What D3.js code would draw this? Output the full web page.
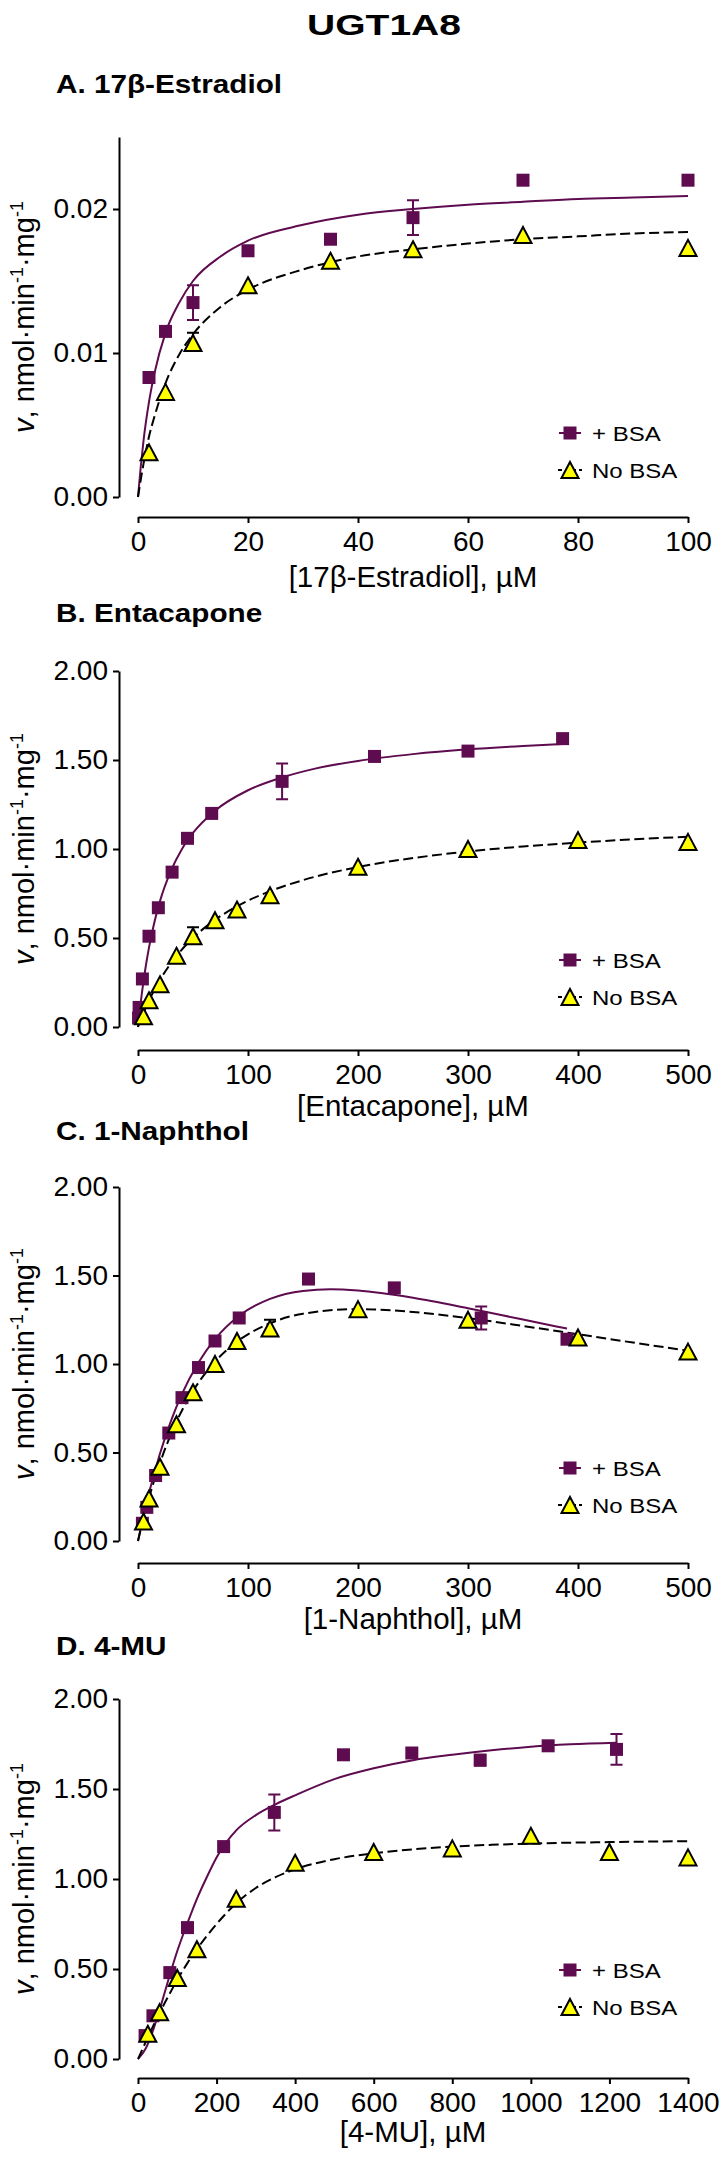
<!DOCTYPE html>
<html>
<head>
<meta charset="utf-8">
<script src="https://cdn.jsdelivr.net/npm/d3@7"></script>
<style>
  body { margin: 0; background: #fff; }
  text { font-family: "Liberation Sans", Arial, Helvetica, sans-serif; fill: #000; }
</style>
</head>
<body>
<svg id="chart" width="726" height="2157"></svg>
<script>
// points are [concentration, rate, sem]; fits are [concentration, rate]
var estradiolBsa = [[2,0.0083,0],[5,0.0115,0],[10,0.0135,0.0012],[20,0.0171,0],[35,0.0179,0],[50,0.0194,0.0012],[70,0.0220,0],[100,0.0220,0.0003]];
var estradiolNoBsa = [[2,0.0031,0],[5,0.0073,0],[10,0.0107,0.0007],[20,0.0147,0],[35,0.0164,0],[50,0.0172,0],[70,0.0182,0],[100,0.0173,0]];
var estradiolBsaFit = [[0,0],[0.5,0.0021],[1,0.0039],[2,0.0066],[3,0.0086],[5,0.0114],[7.5,0.0135],[10,0.0150],[15,0.0167],[20,0.0178],[30,0.0189],[40,0.0196],[50,0.0200],[60,0.0203],[70,0.0205],[80,0.0207],[90,0.0208],[100,0.0209]];
var estradiolNoBsaFit = [[0,0],[0.5,0.0012],[1,0.0023],[2,0.0042],[3,0.0056],[5,0.0079],[7.5,0.0099],[10,0.0113],[15,0.0132],[20,0.0144],[30,0.0158],[40,0.0167],[50,0.0172],[60,0.0176],[70,0.0179],[80,0.0181],[90,0.0183],[100,0.0184]];

var entacaponeBsa = [[0.5,0.05,0],[1,0.11,0],[4,0.27,0],[10,0.51,0],[18.5,0.67,0],[31,0.87,0],[45,1.06,0],[67,1.20,0],[131,1.38,0.10],[215,1.52,0],[300,1.55,0],[386,1.62,0]];
var entacaponeNoBsa = [[5,0.06,0],[10,0.15,0],[20,0.24,0],[35,0.40,0],[50,0.51,0.05],[70,0.60,0],[90,0.66,0],[120,0.74,0],[200,0.90,0],[300,1.00,0],[400,1.05,0],[500,1.04,0]];
var entacaponeBsaFit = [[0,0],[1,0.058],[2.5,0.139],[5,0.256],[7.5,0.358],[10,0.446],[15,0.591],[20,0.707],[30,0.878],[40,1.0],[50,1.09],[70,1.215],[100,1.33],[130,1.40],[160,1.45],[200,1.495],[250,1.533],[300,1.56],[350,1.579],[386,1.59]];
var entacaponeNoBsaFit = [[0,0],[2.5,0.041],[5,0.079],[10,0.149],[20,0.265],[35,0.399],[50,0.50],[70,0.602],[90,0.678],[120,0.763],[150,0.825],[200,0.899],[250,0.949],[300,0.986],[350,1.014],[400,1.036],[450,1.054],[500,1.069]];

var naphtholBsa = [[4,0.10,0],[8,0.19,0],[16,0.37,0],[28,0.61,0],[40,0.81,0],[55,0.98,0],[70,1.13,0],[92,1.26,0],[155,1.48,0],[233,1.43,0],[312,1.26,0.065],[390,1.14,0]];
var naphtholNoBsa = [[5,0.11,0],[10,0.24,0],[20,0.42,0],[35,0.66,0],[50,0.84,0],[70,1.00,0],[90,1.13,0],[120,1.20,0.05],[200,1.31,0],[300,1.25,0],[400,1.15,0],[500,1.07,0]];
var naphtholBsaFit = [[0,0],[5,0.142],[10,0.271],[20,0.494],[30,0.679],[40,0.831],[55,1.009],[70,1.141],[92,1.273],[120,1.368],[150,1.413],[175,1.422],[200,1.415],[250,1.374],[300,1.315],[350,1.251],[390,1.20]];
var naphtholNoBsaFit = [[0,0],[5,0.128],[10,0.243],[20,0.441],[35,0.674],[50,0.847],[70,1.013],[90,1.126],[120,1.230],[150,1.284],[200,1.31],[250,1.294],[300,1.259],[350,1.215],[400,1.168],[450,1.121],[500,1.075]];

var muBsa = [[18,0.13,0],[38,0.24,0],[81,0.48,0],[126,0.73,0],[218,1.18,0],[347,1.37,0.10],[523,1.69,0],[697,1.70,0],[871,1.66,0.03],[1044,1.74,0.02],[1218,1.72,0.085]];
var muNoBsa = [[25,0.14,0],[55,0.26,0],[100,0.45,0],[150,0.61,0],[250,0.89,0],[400,1.09,0],[600,1.15,0],[800,1.17,0],[1000,1.24,0],[1200,1.15,0],[1400,1.12,0]];
var muBsaFit = [[0,0],[20,0.06],[40,0.17],[60,0.31],[80,0.46],[100,0.60],[125,0.75],[150,0.89],[175,1.01],[200,1.12],[250,1.27],[300,1.355],[350,1.415],[400,1.465],[500,1.555],[600,1.615],[700,1.66],[800,1.69],[900,1.715],[1000,1.735],[1100,1.748],[1218,1.757]];
var muNoBsaFit = [[0,0],[25,0.12],[50,0.235],[75,0.34],[100,0.44],[125,0.53],[150,0.61],[200,0.75],[250,0.865],[300,0.95],[350,1.01],[400,1.054],[500,1.11],[600,1.143],[700,1.165],[800,1.18],[900,1.19],[1000,1.197],[1200,1.205],[1400,1.21]];

var estradiolXTicks = [0, 20, 40, 60, 80, 100];
var substrateXTicks = [0, 100, 200, 300, 400, 500];
var muXTicks = [0, 200, 400, 600, 800, 1000, 1200, 1400];
var estradiolYTicks = [0, 0.01, 0.02];
var rateYTicks = [0, 0.5, 1, 1.5, 2];

var purple = '#5e0b4f';
var yellow = '#ffff00';

var panels = [
	{ title: 'A. 17\u03B2-Estradiol', xLabel: '[17\u03B2-Estradiol], \u00B5M', xMax: 100, xTicks: estradiolXTicks, yMax: 0.025, yTicks: estradiolYTicks,
	  bsa: estradiolBsa, noBsa: estradiolNoBsa, bsaFit: estradiolBsaFit, noBsaFit: estradiolNoBsaFit,
	  titleY: 93, yTop: 137, yZero: 497, axisY: 517, xLabelY: 587, legendY: 433 },
	{ title: 'B. Entacapone', xLabel: '[Entacapone], \u00B5M', xMax: 500, xTicks: substrateXTicks, yMax: 2, yTicks: rateYTicks,
	  bsa: entacaponeBsa, noBsa: entacaponeNoBsa, bsaFit: entacaponeBsaFit, noBsaFit: entacaponeNoBsaFit,
	  titleY: 622, yTop: 671, yZero: 1027, axisY: 1050, xLabelY: 1116, legendY: 960 },
	{ title: 'C. 1-Naphthol', xLabel: '[1-Naphthol], \u00B5M', xMax: 500, xTicks: substrateXTicks, yMax: 2, yTicks: rateYTicks,
	  bsa: naphtholBsa, noBsa: naphtholNoBsa, bsaFit: naphtholBsaFit, noBsaFit: naphtholNoBsaFit,
	  titleY: 1140, yTop: 1187, yZero: 1541, axisY: 1563, xLabelY: 1629, legendY: 1468 },
	{ title: 'D. 4-MU', xLabel: '[4-MU], \u00B5M', xMax: 1400, xTicks: muXTicks, yMax: 2, yTicks: rateYTicks,
	  bsa: muBsa, noBsa: muNoBsa, bsaFit: muBsaFit, noBsaFit: muNoBsaFit,
	  titleY: 1655, yTop: 1699, yZero: 2059, axisY: 2078, xLabelY: 2142, legendY: 1970 }
];

var svg = d3.select('#chart');

// the titles and legend text in the original are set a little wider than plain Arial
var wideText = function( g, x, y, str, size, sx, anchor ) {
	return g.append('text')
		.attr('transform', 'translate(' + x + ',' + y + ') scale(' + sx + ',1)')
		.attr('text-anchor', anchor || 'start')
		.style('font-size', size + 'px')
		.text(str);
};

wideText(svg, 384, 35, 'UGT1A8', 30, 1.3, 'middle').style('font-weight', 'bold');

var trianglePath = 'M0,-8L8.5,8L-8.5,8Z';
var square = d3.symbol().type(d3.symbolSquare).size(169);

var styleAxis = function( g ) {
	g.select('.domain').attr('stroke', '#000').attr('stroke-width', 2);
	g.selectAll('.tick line').attr('stroke', '#000').attr('stroke-width', 2);
	g.selectAll('.tick text').style('font-size', '28px').style('font-family', '"Liberation Sans", Arial, sans-serif');
};

var yLabel = function( g, cy ) {
	var t = g.append('text')
		.attr('transform', 'translate(34,' + cy + ') rotate(-90)')
		.attr('text-anchor', 'middle')
		.style('font-size', '29px');
	t.append('tspan').style('font-style', 'italic').text('v');
	t.append('tspan').text(', nmol\u00B7min');
	t.append('tspan').attr('dy', -11).style('font-size', '18px').text('-1');
	t.append('tspan').attr('dy', 11).text('\u00B7mg');
	t.append('tspan').attr('dy', -11).style('font-size', '18px').text('-1');
};

var drawPanel = function( p ) {

	var g = svg.append('g');

	var x = d3.scaleLinear().domain([0, p.xMax]).range([138, 688]);
	var y = d3.scaleLinear().domain([0, p.yMax]).range([p.yZero, p.yTop]);

	wideText(g, 56, p.titleY, p.title, 25.6, 1.16).style('font-weight', 'bold');

	g.append('g')
		.attr('transform', 'translate(119,0)')
		.call(d3.axisLeft(y).tickValues(p.yTicks).tickFormat(d3.format('.2f')).tickSize(6).tickSizeOuter(0).tickPadding(5))
		.call(styleAxis);

	g.append('g')
		.attr('transform', 'translate(0,' + p.axisY + ')')
		.call(d3.axisBottom(x).tickValues(p.xTicks).tickFormat(d3.format('d')).tickSize(6).tickSizeOuter(0).tickPadding(8))
		.call(styleAxis);

	g.append('text')
		.attr('x', 413)
		.attr('y', p.xLabelY)
		.attr('text-anchor', 'middle')
		.style('font-size', '29.5px')
		.text(p.xLabel);

	yLabel(g, (p.yTop + p.yZero) / 2);

	var line = d3.line()
		.x(function(d) { return x(d[0]); })
		.y(function(d) { return y(d[1]); })
		.curve(d3.curveMonotoneX);

	g.append('path')
		.attr('d', line(p.bsaFit))
		.attr('fill', 'none')
		.attr('stroke', purple)
		.attr('stroke-width', 2);

	g.append('path')
		.attr('d', line(p.noBsaFit))
		.attr('fill', 'none')
		.attr('stroke', '#000')
		.attr('stroke-width', 2)
		.attr('stroke-dasharray', '10,4.5');

	// error bars: squares both ways, triangles above only
	var bsaErr = p.bsa.filter(function(d) { return d[2] > 0; });
	var noBsaErr = p.noBsa.filter(function(d) { return d[2] > 0; });

	var errPath = function( d, both ) {
		var cx = x(d[0]), top = y(d[1] + d[2]), bot = both ? y(d[1] - d[2]) : y(d[1]);
		var s = 'M' + cx + ',' + top + 'V' + bot + 'M' + (cx - 6) + ',' + top + 'H' + (cx + 6);
		if ( both ) s += 'M' + (cx - 6) + ',' + bot + 'H' + (cx + 6);
		return s;
	};

	g.selectAll('.err-bsa').data(bsaErr)
		.enter()
			.append('path')
			.classed('err-bsa', true)
			.attr('d', function(d) { return errPath(d, true); })
			.attr('fill', 'none')
			.attr('stroke', purple)
			.attr('stroke-width', 2);

	g.selectAll('.sq').data(p.bsa)
		.enter()
			.append('path')
			.classed('sq', true)
			.attr('d', square)
			.attr('transform', function(d) { return 'translate(' + x(d[0]) + ',' + y(d[1]) + ')'; })
			.attr('fill', purple);

	g.selectAll('.err-nobsa').data(noBsaErr)
		.enter()
			.append('path')
			.classed('err-nobsa', true)
			.attr('d', function(d) { return errPath(d, false); })
			.attr('fill', 'none')
			.attr('stroke', '#000')
			.attr('stroke-width', 2);

	g.selectAll('.tri').data(p.noBsa)
		.enter()
			.append('path')
			.classed('tri', true)
			.attr('d', trianglePath)
			.attr('transform', function(d) { return 'translate(' + x(d[0]) + ',' + y(d[1]) + ')'; })
			.attr('fill', yellow)
			.attr('stroke', '#000')
			.attr('stroke-width', 2);

	// legend
	var ly1 = p.legendY, ly2 = p.legendY + 37;
	var lg = g.append('g');

	lg.append('line').attr('x1', 559).attr('x2', 581).attr('y1', ly1).attr('y2', ly1)
		.attr('stroke', purple).attr('stroke-width', 2);
	lg.append('path').attr('d', square).attr('transform', 'translate(570,' + ly1 + ')').attr('fill', purple);
	wideText(lg, 592, ly1 + 7.5, '+ BSA', 20.5, 1.17);

	lg.append('line').attr('x1', 558).attr('x2', 582).attr('y1', ly2).attr('y2', ly2)
		.attr('stroke', '#000').attr('stroke-width', 2).attr('stroke-dasharray', '4,3');
	lg.append('path').attr('d', trianglePath).attr('transform', 'translate(570,' + ly2 + ')')
		.attr('fill', yellow).attr('stroke', '#000').attr('stroke-width', 2);
	wideText(lg, 592, ly2 + 7.5, 'No BSA', 20.5, 1.17);
};

panels.forEach(drawPanel);
</script>
</body>
</html>
